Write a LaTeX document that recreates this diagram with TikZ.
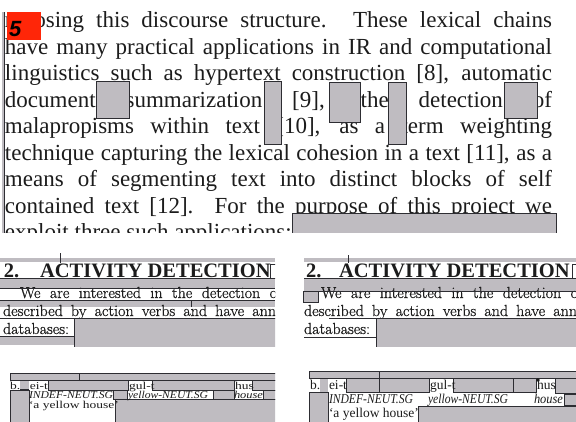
\documentclass[tikz,border=0pt]{standalone}
\usepackage{fontspec}
\usepackage{graphicx}
\setmainfont{Liberation Serif}
\newfontfamily\lmroman[FakeBold=0.7]{Latin Modern Roman}
\newfontfamily\marksans{Liberation Sans}
\definecolor{boxgray}{RGB}{191,188,193}
\definecolor{edge}{RGB}{45,45,50}
\definecolor{marker}{RGB}{255,38,8}
\definecolor{ink}{RGB}{28,28,28}
\begin{document}
\begin{tikzpicture}[x=1pt,y=-1pt,
  graybox/.style={fill=boxgray, draw=edge, line width=0.9pt},
  softbox/.style={fill=boxgray, draw=edge, line width=0.6pt},
  rule/.style={draw=edge, line width=0.6pt},
  paraline/.style={anchor=base west, inner sep=0pt, outer sep=0pt, text=ink,
    font=\fontsize{23}{26.5}\selectfont},
  headline/.style={anchor=base west, inner sep=0pt, outer sep=0pt, text=ink,
    font=\fontsize{20.5}{24}\selectfont\bfseries},
  bodyline/.style={anchor=base west, inner sep=0pt, outer sep=0pt, text=ink,
    font=\lmroman\fontsize{16}{18}\selectfont},
  glossline/.style={anchor=base west, inner sep=0pt, outer sep=0pt, text=ink,
    font=\fontsize{13.5}{16}\selectfont},
]
\fill[white] (0,0) rectangle (576,421);
\useasboundingbox (0,0) rectangle (576,421);

% ---------------- paragraph with covering boxes ----------------
\begin{scope}
\clip (0,0) rectangle (576,232);
\node[paraline] (l1) at (5,27.5)  {\hbox to 547pt{mposing this discourse structure. These lexical chains}};
\node[paraline] (l2) at (5,54)    {\hbox to 547pt{have many practical applications in IR and computational}};
\node[paraline] (l3) at (5,80.5)  {\hbox to 547pt{linguistics such as hypertext construction [8], automatic}};
\node[paraline] (l4) at (5,107)   {\hbox to 547pt{document summarization [9], the detection of}};
\node[paraline] (l5) at (5,133.5) {\hbox to 547pt{malapropisms within text [10], as a term weighting}};
\node[paraline] (l6) at (5,160)   {\hbox to 547pt{technique capturing the lexical cohesion in a text [11], as a}};
\node[paraline] (l7) at (5,186.5) {\hbox to 547pt{means of segmenting text into distinct blocks of self}};
\node[paraline] (l8) at (5,213)   {\hbox to 547pt{contained text [12]. For the purpose of this project we}};
\node[paraline] (l9) at (5,239.5) {exploit three such applications:};

\path[graybox] (96,81) rectangle (129,118);
\path[graybox] (264,81) rectangle (281,144);
\path[graybox] (329,82) rectangle (360,122);
\path[graybox] (388,82) rectangle (406,144);
\path[graybox] (504,82) rectangle (537,118);
\path[graybox] (292,213) rectangle (556,240);

\fill[boxgray] (1.5,12) rectangle (4.5,240);
\draw[edge, line width=1.2pt] (4.5,12) -- (4.5,240);
\end{scope}

\fill[marker] (7,12) rectangle (41,40);
\node[anchor=base west, inner sep=0pt, font=\marksans\fontsize{22}{24}\selectfont\bfseries\itshape]
  (badge) at (9,36) {5};

% ---------------- section heading, left copy ----------------
\begin{scope}
\clip (0,250) rectangle (275,346);
\fill[boxgray] (0,258) rectangle (275,345);
\fill[white] (0,262) rectangle (275,278);
\fill[white] (0,288) rectangle (275,300);
\fill[white] (0,307) rectangle (275,318);
\fill[white] (0,318) rectangle (74,336);
\node[headline] (h1n) at (4,277) {2.};
\node[headline] (h1t) at (40,277) {ACTIVITY DETECTION};
\node[bodyline] (a1) at (20,298) {\hbox to 257pt{We are interested in the detection o}};
\node[bodyline] (a2) at (3,316) {\hbox to 273pt{described by action verbs and have ann}};
\node[bodyline] (a3) at (3,334) {databases:};
\path[rule] (0,278) -- (275,278);
\path[rule] (0,288) -- (275,288);
\path[rule] (0,300) -- (275,300);
\path[rule] (191,300) -- (191,307);
\path[rule] (0,318) -- (275,318);
\path[rule] (0,336) -- (74,336);
\path[softbox] (74,318) rectangle (277,347);
\path[rule] (270,264) rectangle (277,278);
\path[rule] (60,253) -- (60,263);
\end{scope}

% ---------------- section heading, right copy ----------------
\begin{scope}
\clip (301,250) rectangle (576,346);
\fill[boxgray] (304,258) rectangle (576,345);
\fill[white] (304,262) rectangle (576,278);
\fill[white] (304,291) rectangle (576,318);
\fill[white] (304,318) rectangle (376,345);
\node[headline] (h2n) at (306,277) {2.};
\node[headline] (h2t) at (339,277) {ACTIVITY DETECTION};
\node[bodyline] (b1) at (321,298) {\hbox to 257pt{We are interested in the detection o}};
\node[bodyline] (b2) at (304,316) {\hbox to 273pt{described by action verbs and have ann}};
\node[bodyline] (b3) at (304,334) {databases:};
\path[rule] (304,278) -- (576,278);
\path[rule] (304,291) -- (576,291);
\path[softbox] (303,291) rectangle (318,302);
\path[rule] (329,318) -- (576,318);
\path[softbox] (376,318) rectangle (578,347);
\path[rule] (304,337) -- (376,337);
\path[rule] (572,264) rectangle (578,278);
\path[rule] (348,255) -- (348,263);
\end{scope}

% ---------------- gloss example, left copy ----------------
\begin{scope}
\clip (0,365) rectangle (275,421);
\fill[boxgray] (10,373) rectangle (275,421);
\fill[white] (10,380) rectangle (20,390);
\fill[white] (29,380) rectangle (48,390);
\fill[white] (128,380) rectangle (152,390);
\fill[white] (234,380) rectangle (252,390);
\fill[white] (29,390) rectangle (113,399);
\fill[white] (127,390) rectangle (213,399);
\fill[white] (234,390) rectangle (263,399);
\fill[white] (29,399) rectangle (115,421);
\path[softbox] (10,373) rectangle (277,380);
\path[rule] (79,373) -- (79,380);
\path[softbox] (48,380) rectangle (128,390);
\path[softbox] (152,380) rectangle (234,390);
\path[softbox] (252,380) rectangle (277,390);
\path[softbox] (113,390) rectangle (127,399);
\path[softbox] (213,390) rectangle (234,399);
\path[softbox] (263,390) rectangle (277,399);
\path[softbox] (115,399) rectangle (277,423);
\path[softbox] (10,390) rectangle (29,423);
\path[rule] (20,389) -- (29,389);
\node[glossline] (g1a) at (10,389) {\scalebox{1}[0.78]{b.}};
\node[glossline] (g1b) at (30,389) {\scalebox{1}[0.78]{ei-t}};
\node[glossline] (g1c) at (129,389) {\scalebox{1}[0.78]{gul-t}};
\node[glossline] (g1d) at (235,389) {\scalebox{1}[0.78]{hus}};
\node[glossline] (g2a) at (29,398) {\scalebox{0.86}[0.78]{\itshape INDEF-NEUT.SG}};
\node[glossline] (g2b) at (128,398) {\scalebox{0.86}[0.78]{\itshape yellow-NEUT.SG}};
\node[glossline] (g2c) at (234,398) {\scalebox{0.92}[0.78]{\itshape house}};
\node[glossline] (g3a) at (29,408) {\scalebox{1}[0.78]{‘a yellow house’}};
\end{scope}

% ---------------- gloss example, right copy ----------------
\begin{scope}
\clip (301,365) rectangle (576,421);
\fill[boxgray] (309,371) rectangle (576,421);
\fill[white] (309,378) rectangle (320,392);
\fill[white] (328,378) rectangle (346,392);
\fill[white] (429,378) rectangle (453,392);
\fill[white] (536,378) rectangle (555,392);
\fill[white] (328,392) rectangle (564,406);
\fill[white] (328,406) rectangle (418,421);
\path[softbox] (309,371) rectangle (578,378);
\path[rule] (379,371) -- (379,392);
\path[softbox] (346,378) rectangle (429,392);
\path[rule] (379,378) -- (379,392);
\path[softbox] (453,378) rectangle (536,392);
\path[rule] (513,378) -- (513,392);
\path[softbox] (555,378) rectangle (578,393);
\path[softbox] (564,394) rectangle (578,405);
\path[softbox] (418,406) rectangle (578,423);
\path[softbox] (309,392) rectangle (328,423);
\path[rule] (309,392) -- (328,392);
\node[glossline] (r1a) at (310,389) {b.};
\node[glossline] (r1b) at (329,389) {ei-t};
\node[glossline] (r1c) at (430,389) {gul-t};
\node[glossline] (r1d) at (537,389) {hus};
\node[glossline] (r2a) at (329,403) {\scalebox{0.86}[1]{\itshape INDEF-NEUT.SG}};
\node[glossline] (r2b) at (428,403) {\scalebox{0.86}[1]{\itshape yellow-NEUT.SG}};
\node[glossline] (r2c) at (534,403) {\scalebox{0.92}[1]{\itshape house}};
\node[glossline] (r3a) at (329,417) {‘a yellow house’};
\fill[ink] (538,380) circle (1.8);
\end{scope}
\end{tikzpicture}
\end{document}
